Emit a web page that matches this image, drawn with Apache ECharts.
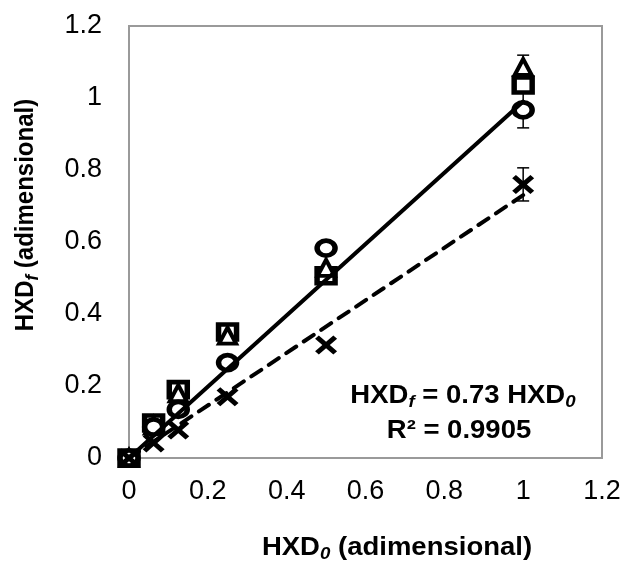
<!DOCTYPE html>
<html>
<head>
<meta charset="utf-8">
<script src="https://cdn.jsdelivr.net/npm/echarts/dist/echarts.min.js"></script>
<style>
  html, body { margin: 0; padding: 0; background: #fff; }
  #chart { width: 624px; height: 562px; }
</style>
</head>
<body>
<div id="chart"></div>
<script>
// Initial concentration (x) and final concentration (y), both dimensionless
const xValues   = [0, 0.0625, 0.125, 0.25, 0.5, 1];
const squareY   = [0, 0.097, 0.19, 0.35, 0.506, 1.036];
const triangleY = [0, 0.09, 0.18, 0.34, 0.528, 1.086];
const circleY   = [0, 0.086, 0.135, 0.265, 0.583, 0.967];
const crossY    = [0, 0.042, 0.078, 0.17, 0.314, 0.76];

// Standard deviations
const squareErr   = [0, 0, 0, 0, 0, 0];
const triangleErr = [0, 0, 0, 0, 0, 0.033];
const circleErr   = [0, 0, 0, 0, 0, 0.05];
const crossErr    = [0, 0, 0, 0, 0, 0.046];

// Linear trend lines through the origin
const fitX     = [0, 1];
const fitMain  = [0, 0.99];
const fitCross = [0, 0.73];

const xTicks = [0, 0.2, 0.4, 0.6, 0.8, 1, 1.2];
const yTicks = [0, 0.2, 0.4, 0.6, 0.8, 1, 1.2];

const FONT = '"Liberation Sans", Arial, sans-serif';

function pairs(xs, ys) { return xs.map((x, i) => [x, ys[i]]); }
function errRows(xs, ys, es) { return xs.map((x, i) => [x, ys[i] - es[i], ys[i] + es[i]]); }

const crossPath = 'path://M0,17 L17,0 L50,33 L83,0 L100,17 L67,50 L100,83 L83,100 L50,67 L17,100 L0,83 L33,50 Z';

function errorBars(rows) {
  return {
    type: 'custom',
    z: 1,
    silent: true,
    data: rows.filter(r => r[2] > r[1]),
    renderItem: function (params, api) {
      const lo = api.coord([api.value(0), api.value(1)]);
      const hi = api.coord([api.value(0), api.value(2)]);
      const cap = 6;
      const style = { stroke: '#000', lineWidth: 1.5, fill: null };
      return {
        type: 'group',
        children: [
          { type: 'line', shape: { x1: lo[0], y1: lo[1], x2: hi[0], y2: hi[1] }, style: style },
          { type: 'line', shape: { x1: lo[0] - cap, y1: lo[1], x2: lo[0] + cap, y2: lo[1] }, style: style },
          { type: 'line', shape: { x1: hi[0] - cap, y1: hi[1], x2: hi[0] + cap, y2: hi[1] }, style: style }
        ]
      };
    }
  };
}

const chart = echarts.init(document.getElementById('chart'), null, { renderer: 'canvas' });

const sub = { fontFamily: FONT, fontWeight: 'bold', fontStyle: 'italic', fontSize: 17, verticalAlign: 'bottom', lineHeight: 26 };
const main = { fontFamily: FONT, fontWeight: 'bold', fontSize: 25, lineHeight: 30, fill: '#000' };

chart.setOption({
  animation: false,
  backgroundColor: '#fff',
  grid: {
    left: 129, right: 22, top: 26, bottom: 104,
    show: true, borderColor: '#9a9a9a', borderWidth: 2, backgroundColor: 'transparent'
  },
  xAxis: {
    type: 'value', min: 0, max: 1.2, interval: 0.2,
    axisLine: { show: true, lineStyle: { color: '#9a9a9a', width: 2 } },
    axisTick: { show: false },
    splitLine: { show: false },
    axisLabel: {
      color: '#000', fontFamily: FONT, fontSize: 27, margin: 20,
      formatter: v => xTicks.includes(+v.toFixed(1)) ? String(+v.toFixed(1)) : ''
    }
  },
  yAxis: {
    type: 'value', min: 0, max: 1.2, interval: 0.2,
    axisLine: { show: true, lineStyle: { color: '#9a9a9a', width: 2 } },
    axisTick: { show: false },
    splitLine: { show: false },
    axisLabel: {
      color: '#000', fontFamily: FONT, fontSize: 27, margin: 27,
      formatter: v => yTicks.includes(+v.toFixed(1)) ? String(+v.toFixed(1)) : ''
    }
  },
  series: [
    errorBars(errRows(xValues, squareY, squareErr)),
    errorBars(errRows(xValues, triangleY, triangleErr)),
    errorBars(errRows(xValues, circleY, circleErr)),
    errorBars(errRows(xValues, crossY, crossErr)),
    {
      type: 'scatter', name: 'square', data: pairs(xValues, squareY),
      symbol: 'rect', symbolSize: [18, 15],
      itemStyle: { color: '#fff', borderColor: '#000', borderWidth: 5, opacity: 1 }
    },
    {
      type: 'scatter', name: 'triangle', data: pairs(xValues, triangleY),
      symbol: 'triangle', symbolSize: [17, 16],
      itemStyle: { color: '#fff', borderColor: '#000', borderWidth: 4, opacity: 1 }
    },
    {
      type: 'scatter', name: 'circle', data: pairs(xValues, circleY),
      symbol: 'circle', symbolSize: [18, 15],
      itemStyle: { color: '#fff', borderColor: '#000', borderWidth: 5, opacity: 1 }
    },
    {
      type: 'scatter', name: 'cross', data: pairs(xValues, crossY),
      symbol: crossPath, symbolSize: [22, 19], symbolKeepAspect: false,
      itemStyle: { color: '#000', opacity: 1 }
    },
    {
      type: 'line', name: 'fit', data: pairs(fitX, fitMain),
      showSymbol: false, symbol: 'none', z: 5,
      lineStyle: { color: '#000', width: 4, type: 'solid', cap: 'round' }
    },
    {
      type: 'line', name: 'fit cross', data: pairs(fitX, fitCross),
      showSymbol: false, symbol: 'none', z: 5,
      lineStyle: { color: '#000', width: 4, type: [12, 9], cap: 'round' }
    }
  ],
  graphic: [
    {
      type: 'text', x: 397, y: 548, scaleX: 1.1,
      style: {
        text: '{m|HXD}{s|0}{m| (adimensional)}',
        align: 'center', verticalAlign: 'middle',
        rich: { m: main, s: sub }
      }
    },
    {
      type: 'text', x: 26, y: 215, rotation: Math.PI / 2, scaleY: 1.1,
      style: {
        text: '{m|HXD}{s|f}{m| (adimensional)}',
        align: 'center', verticalAlign: 'middle',
        rich: { m: Object.assign({}, main, { fontSize: 24 }), s: sub }
      }
    },
    {
      type: 'text', x: 463, y: 396, scaleX: 1.1,
      style: {
        text: '{m|HXD}{s|f}{m| = 0.73 HXD}{s|0}',
        align: 'center', verticalAlign: 'middle',
        rich: { m: main, s: sub }
      }
    },
    {
      type: 'text', x: 459, y: 431, scaleX: 1.1,
      style: {
        text: '{m|R² = 0.9905}',
        align: 'center', verticalAlign: 'middle',
        rich: { m: main }
      }
    }
  ]
});
</script>
</body>
</html>
